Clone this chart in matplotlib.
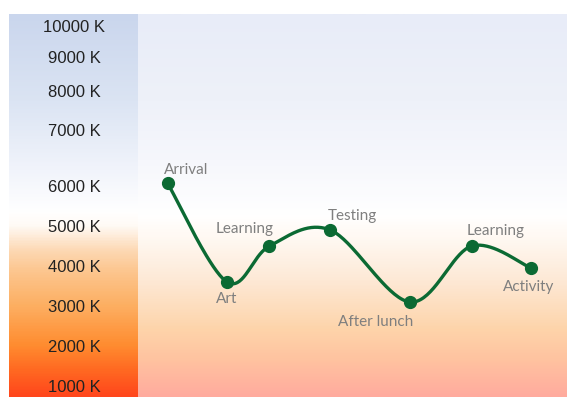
import numpy as np
import matplotlib
matplotlib.use("Agg")
import matplotlib.pyplot as plt
from matplotlib.colors import LinearSegmentedColormap

# day stops: clock time (hours) and colour temperature (K)
stops = ["Arrival", "Art", "Learning", "Testing", "After lunch", "Learning", "Activity"]
hours = [8.0, 9.0, 9.72, 10.75, 12.1, 13.15, 14.15]
kelvin = [6050, 3600, 4500, 4900, 3100, 4500, 3950]

tick_k = [1000, 2000, 3000, 4000, 5000, 6000, 7000, 8000, 9000, 10000]
tick_labels = ["%d K" % k for k in tick_k]

# label offsets (pixels) from each point
offsets = [(18, 13), (0, -17), (-25, 17), (22, 14), (-34, -20), (24, 15), (-2, -19)]

W, H, DPI = 567, 397, 100
AX_L, AX_T = 9, 14          # axes left / top in pixels
STRIP_R = 138               # right edge of the scale strip

# the temperature axis is linear below 6000 K and squeezed above
scale_k = [725, 1000, 2000, 3000, 4000, 5000, 6000, 7000, 8000, 9000, 10000, 10390]
scale_px = [0, 11, 51, 91, 131, 171, 211, 267, 306, 340, 371, 383]


def fwd(k):
    return np.interp(k, scale_k, scale_px)


def inv(p):
    return np.interp(p, scale_px, scale_k)


def catmull_rom(xs, ys, n=40):
    pts = np.column_stack([xs, ys]).astype(float)
    pts = np.vstack([pts[0], pts, pts[-1]])
    out = []
    t = np.linspace(0, 1, n)[:, None]
    for i in range(1, len(pts) - 2):
        p0, p1, p2, p3 = pts[i - 1], pts[i], pts[i + 1], pts[i + 2]
        seg = 0.5 * ((2 * p1) + (-p0 + p2) * t + (2 * p0 - 5 * p1 + 4 * p2 - p3) * t ** 2
                     + (-p0 + 3 * p1 - 3 * p2 + p3) * t ** 3)
        out.append(seg if i == 1 else seg[1:])
    out = np.vstack(out)
    return out[:, 0], out[:, 1]


def gradient(stops_px, colours):
    # stops given as pixel rows from the top of the figure
    pos = [(H - y) / (H - AX_T) for y in stops_px]
    pairs = sorted(zip(pos, colours))
    pairs[0] = (0.0, pairs[0][1])
    pairs[-1] = (1.0, pairs[-1][1])
    return LinearSegmentedColormap.from_list("g", pairs)


fig = plt.figure(figsize=(W / DPI, H / DPI), dpi=DPI)
rect = [AX_L / W, 0, (W - AX_L) / W, (H - AX_T) / H]

bg = fig.add_axes(rect)
bg.set_axis_off()
ramp = np.linspace(0, 1, 400)[:, None]

main_cmap = gradient([14, 100, 160, 215, 240, 280, 330, 360, 397],
                     ["#e8ecf8", "#eef1f9", "#f6f7fc", "#ffffff", "#fff8f1",
                      "#fde9d6", "#fed4aa", "#ffc3a0", "#ffab9e"])
strip_cmap = gradient([14, 100, 170, 212, 226, 250, 270, 306, 346, 370, 397],
                      ["#cad6ed", "#dbe4f3", "#f1f4fb", "#ffffff", "#fffaf5",
                       "#fdd9b5", "#fcc791", "#fdaf62", "#ff8c30", "#ff6a22",
                       "#ff461c"])
strip_w = (STRIP_R - AX_L) / (W - AX_L)
bg.imshow(ramp, cmap=main_cmap, origin="lower", aspect="auto", extent=[0, 1, 0, 1])
bg.imshow(ramp, cmap=strip_cmap, origin="lower", aspect="auto", extent=[0, strip_w, 0, 1])
bg.set_xlim(0, 1)
bg.set_ylim(0, 1)

ax = fig.add_axes(rect)
ax.patch.set_alpha(0)
ax.set_yscale("function", functions=(fwd, inv))
ax.set_ylim(725, 10390)
ax.set_xlim(8 - 159 / 59, 8 + 399 / 59)
for s in ax.spines.values():
    s.set_visible(False)
ax.set_xticks([])
ax.set_yticks(tick_k)
ax.set_yticklabels(tick_labels, fontsize=12, family="Liberation Sans", color="#222222")
ax.yaxis.set_minor_locator(matplotlib.ticker.NullLocator())
ax.tick_params(axis="y", length=0, pad=-46.8)
for lbl in ax.get_yticklabels():
    lbl.set_horizontalalignment("center")

cx, cy = catmull_rom(hours, kelvin)
ax.plot(cx, cy, color="#0b6a33", lw=2.4, solid_capstyle="round", zorder=3)
ax.plot(hours, kelvin, "o", color="#0b6a33", ms=8.5, zorder=4)

for name, x, k, off in zip(stops, hours, kelvin, offsets):
    ax.annotate(name, (x, k), xytext=off, textcoords="offset pixels",
                ha="center", va="center", fontsize=11, family="Lato",
                color="#7f7f7f")

fig.savefig("out.png", dpi=DPI)
